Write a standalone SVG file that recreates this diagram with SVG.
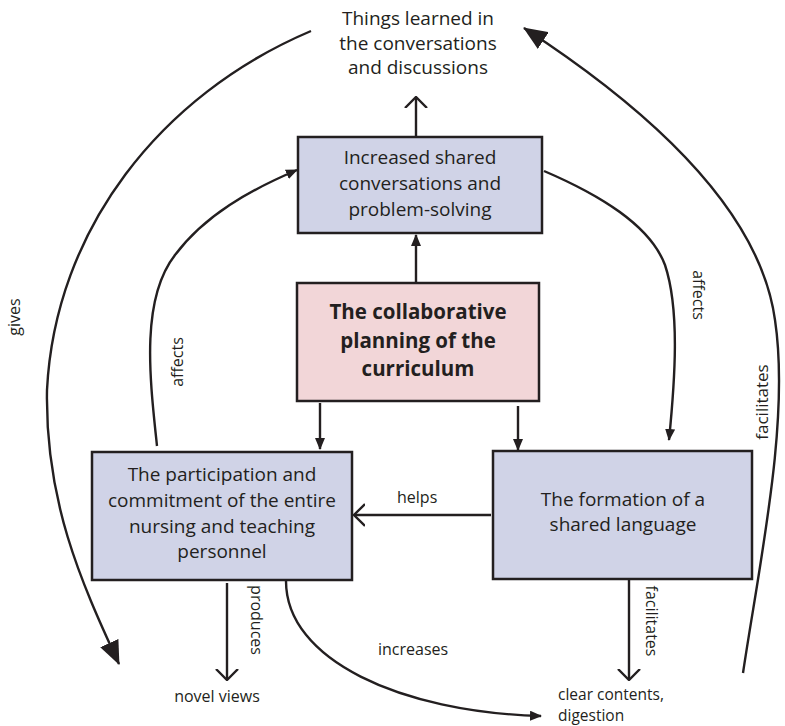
<svg xmlns="http://www.w3.org/2000/svg" width="785" height="726" viewBox="0 0 785 726">
  <style>
    .box { stroke: #231f20; stroke-width: 2.5; }
    .blue { fill: #d0d3e7; }
    .pink { fill: #f2d6d8; }
    text { font-family: "Open Sans", "Noto Sans", sans-serif; fill: #231f20; }
    .node { font-size: 19px; text-anchor: middle; }
    .bold { font-size: 20.5px; font-weight: 700; }
    .lbl { font-size: 16px; }
    .mid { text-anchor: middle; }
    .edge { fill: none; stroke: #231f20; stroke-width: 2.4; }
  </style>
  <defs>
    <marker id="solid" viewBox="0 0 12 10" refX="11" refY="5" markerWidth="12" markerHeight="10" markerUnits="userSpaceOnUse" orient="auto">
      <path d="M0,0 L12,5 L0,10 Z" fill="#231f20"/>
    </marker>
    <marker id="big" viewBox="0 0 24 20" refX="23" refY="10" markerWidth="24" markerHeight="20" markerUnits="userSpaceOnUse" orient="auto">
      <path d="M0,0 L24,10 L0,20 Z" fill="#231f20"/>
    </marker>
    <marker id="open" viewBox="0 0 12 24" refX="11" refY="12" markerWidth="12" markerHeight="24" markerUnits="userSpaceOnUse" orient="auto">
      <path d="M0,1 L11,12 L0,23" fill="none" stroke="#231f20" stroke-width="2.4"/>
    </marker>
  </defs>

  <!-- connectors -->
  <g id="connectors">
    <path class="edge" d="M416,137 L416,97" marker-end="url(#open)"/>
    <path class="edge" d="M416,283 L416,235" marker-end="url(#solid)"/>
    <path class="edge" d="M320,403 L320,449" marker-end="url(#solid)"/>
    <path class="edge" d="M518,406 L518,450" marker-end="url(#solid)"/>
    <path class="edge" d="M491,515 L354,515" marker-end="url(#open)"/>
    <path class="edge" d="M227,583 L227,680" marker-end="url(#open)"/>
    <path class="edge" d="M629,579 L629,680" marker-end="url(#open)"/>
    <!-- increases -->
    <path class="edge" d="M286,581 C286,660 400,712 541,716" marker-end="url(#solid)"/>
    <!-- affects (left) -->
    <path class="edge" d="M157,446 C150,380 140,300 175,255 C205,215 250,190 297,170" marker-end="url(#solid)"/>
    <!-- affects (right) -->
    <path class="edge" d="M544,171 C600,195 650,225 665,265 C680,310 675,380 669,440" marker-end="url(#solid)"/>
    <!-- gives -->
    <path class="edge" d="M311,31 C160,95 55,230 47,390 C45,500 80,580 119,664" marker-end="url(#big)"/>
    <!-- facilitates (outer) -->
    <path class="edge" d="M743,673 C760,560 790,420 775,320 C760,210 650,110 524,28" marker-end="url(#big)"/>
  </g>

  <g id="things-learned">
    <text class="node"><tspan x="418" y="25">Things learned in</tspan><tspan x="418" y="50">the conversations</tspan><tspan x="418" y="74">and discussions</tspan></text>
  </g>

  <g id="shared-conversations">
    <rect class="box blue" x="298" y="137" width="244" height="96"/>
    <text class="node"><tspan x="420" y="164">Increased shared</tspan><tspan x="420" y="190">conversations and</tspan><tspan x="420" y="216">problem-solving</tspan></text>
  </g>

  <g id="collaborative-planning">
    <rect class="box pink" x="297" y="283" width="242" height="118"/>
    <text class="node bold"><tspan x="418" y="319">The collaborative</tspan><tspan x="418" y="348">planning of the</tspan><tspan x="418" y="376">curriculum</tspan></text>
  </g>

  <g id="participation">
    <rect class="box blue" x="92" y="452" width="260" height="128"/>
    <text class="node"><tspan x="222" y="481">The participation and</tspan><tspan x="222" y="507">commitment of the entire</tspan><tspan x="222" y="533">nursing and teaching</tspan><tspan x="222" y="558">personnel</tspan></text>
  </g>

  <g id="shared-language">
    <rect class="box blue" x="493" y="451" width="259" height="128"/>
    <text class="node"><tspan x="623" y="506">The formation of a</tspan><tspan x="623" y="531">shared language</tspan></text>
  </g>

  <g id="novel-views">
    <text class="lbl mid" x="217" y="702">novel views</text>
  </g>

  <g id="clear-contents">
    <text class="lbl" style="font-size:15.5px"><tspan x="558" y="700">clear contents,</tspan><tspan x="558" y="721">digestion</tspan></text>
  </g>

  <!-- connector labels -->
  <g id="labels">
    <text class="lbl" x="397" y="503">helps</text>
    <text class="lbl" x="378" y="655">increases</text>
    <text class="lbl mid" transform="translate(20,317) rotate(-90)">gives</text>
    <text class="lbl mid" transform="translate(183,362) rotate(-90)">affects</text>
    <text class="lbl mid" transform="translate(693,295) rotate(90)">affects</text>
    <text class="lbl mid" style="font-size:17px" transform="translate(768,402) rotate(-90)">facilitates</text>
    <text class="lbl mid" transform="translate(251,620) rotate(90)">produces</text>
    <text class="lbl mid" transform="translate(646,621) rotate(90)">facilitates</text>
  </g>
</svg>
